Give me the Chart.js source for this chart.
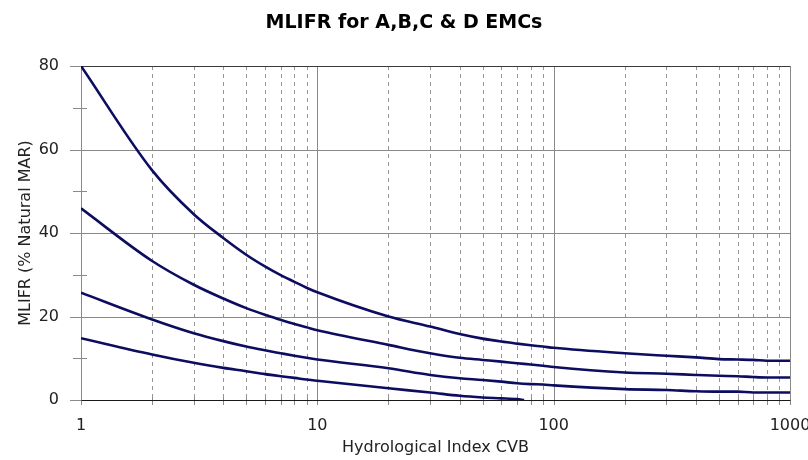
<!DOCTYPE html>
<html>
<head>
<meta charset="utf-8">
<title>MLIFR for A,B,C & D EMCs</title>
<script src="https://cdn.jsdelivr.net/npm/chart.js@4.4.1/dist/chart.umd.min.js"></script>
<style>
  html, body { margin: 0; padding: 0; background: #fff; }
  #wrap { width: 808px; height: 460px; }
</style>
</head>
<body>
<div id="wrap"><canvas id="mlifrChart" width="808" height="460"></canvas></div>
<script>
// hydrological index CVB (x) and MLIFR values
var cvb = [1, 2, 3, 4, 5, 6, 7, 8, 9, 10, 20, 30, 40, 50, 60, 70, 80, 90, 100,
           200, 300, 400, 500, 600, 700, 800, 900, 1000];
var mlifrA = [80, 55.0, 44.5, 38.8, 34.8, 32.0, 29.9, 28.3, 26.9, 25.8, 20.0, 17.6, 15.8, 14.7, 14.0, 13.5, 13.1, 12.8, 12.5,
              11.2, 10.6, 10.2, 9.8, 9.7, 9.6, 9.4, 9.4, 9.4];
var mlifrB = [45.9, 33.3, 27.6, 24.3, 22.0, 20.4, 19.2, 18.2, 17.4, 16.7, 13.2, 11.2, 10.1, 9.6, 9.2, 8.8, 8.5, 8.2, 7.9,
              6.6, 6.3, 6.0, 5.8, 5.7, 5.5, 5.4, 5.4, 5.4];
var mlifrC = [25.7, 19.3, 16.0, 14.1, 12.8, 11.9, 11.2, 10.6, 10.1, 9.7, 7.6, 6.0, 5.2, 4.8, 4.4, 4.0, 3.8, 3.7, 3.5,
              2.6, 2.4, 2.1, 2.0, 2.0, 1.8, 1.8, 1.8, 1.8];
// D runs out to zero before 100
var cvbD = [1, 2, 3, 4, 5, 6, 7, 8, 9, 10, 20, 30, 40, 50, 60, 70, 75];
var mlifrD = [14.8, 10.9, 8.9, 7.7, 6.9, 6.2, 5.7, 5.3, 4.9, 4.6, 2.8, 1.8, 1.0, 0.6, 0.4, 0.2, 0];

var seriesNames = ['A', 'B', 'C', 'D'];
var xLabels = [1, 10, 100, 1000];
var yLabels = [0, 20, 40, 60, 80];

var FONT = 'DejaVu Sans';
var LINE = '#0c0c60';

function pts(xs, ys) {
  return xs.map(function (x, i) { return { x: x, y: ys[i] }; });
}

// keep only 1..9 x 10^n ticks (log scale also hands out 15, 150 ...)
function isDecadeTick(v) {
  var m = v / Math.pow(10, Math.floor(Math.log10(v) + 1e-9));
  return Math.abs(m - Math.round(m)) < 1e-6;
}

// excel-like grid: solid majors, dashed minors, cross ticks on the axes
var gridPlugin = {
  id: 'excelGrid',
  beforeDatasetsDraw: function (chart) {
    var ctx = chart.ctx, a = chart.chartArea;
    var xs = chart.scales.x, ys = chart.scales.y;
    var xt = xs.ticks.filter(function (t) { return isDecadeTick(t.value); });
    ctx.save();
    ctx.lineWidth = 1;

    xt.forEach(function (t) {
      var v = t.value;
      if (v <= 1 || v >= 1000) return;
      var px = Math.round(xs.getPixelForValue(v)) + 0.5;
      var major = xLabels.indexOf(v) >= 0;
      ctx.strokeStyle = major ? '#8a8a8a' : '#959595';
      ctx.setLineDash(major ? [] : [4, 4]);
      ctx.beginPath();
      ctx.moveTo(px, a.top);
      ctx.lineTo(px, a.bottom);
      ctx.stroke();
    });
    ctx.setLineDash([]);

    ys.ticks.forEach(function (t) {
      var v = t.value;
      var py = Math.round(ys.getPixelForValue(v)) + 0.5;
      var major = yLabels.indexOf(v) >= 0;
      ctx.strokeStyle = '#8a8a8a';
      ctx.beginPath();
      if (major) {
        ctx.moveTo(a.left - 11, py);
        ctx.lineTo(v > 0 && v < 80 ? a.right : a.left, py);
      } else {
        ctx.moveTo(a.left - 8, py);
        ctx.lineTo(a.left + 6, py);
      }
      ctx.stroke();
    });

    // tick marks under the x axis
    ctx.strokeStyle = '#8a8a8a';
    xt.forEach(function (t) {
      var px = Math.round(xs.getPixelForValue(t.value)) + 0.5;
      ctx.beginPath();
      ctx.moveTo(px, a.bottom - 3);
      ctx.lineTo(px, a.bottom + 5);
      ctx.stroke();
    });

    // frame
    var l = Math.round(a.left) + 0.5, r = Math.round(a.right) + 0.5;
    var t0 = Math.round(a.top) + 0.5, b = Math.round(a.bottom) + 0.5;
    ctx.strokeStyle = '#8a8a8a';
    ctx.beginPath();
    ctx.moveTo(l, t0); ctx.lineTo(l, b);
    ctx.moveTo(r, t0); ctx.lineTo(r, b);
    ctx.stroke();
    ctx.strokeStyle = '#3a3a3a';
    ctx.beginPath();
    ctx.moveTo(l, t0); ctx.lineTo(r, t0);
    ctx.stroke();
    ctx.strokeStyle = '#1a1a1a';
    ctx.beginPath();
    ctx.moveTo(l, b); ctx.lineTo(r, b);
    ctx.stroke();
    ctx.restore();
  }
};

var allX = [cvb, cvb, cvb, cvbD];
var allY = [mlifrA, mlifrB, mlifrC, mlifrD];

var ctx = document.getElementById('mlifrChart').getContext('2d');
var chart = new Chart(ctx, {
  type: 'line',
  data: {
    datasets: seriesNames.map(function (n, i) {
      return {
        label: n,
        data: pts(allX[i], allY[i]),
        borderColor: LINE,
        borderWidth: 2.6,
        pointRadius: 0,
        cubicInterpolationMode: 'monotone',
        fill: false
      };
    })
  },
  options: {
    responsive: false,
    animation: false,
    events: [],
    layout: { padding: 0 },
    plugins: {
      legend: { display: false },
      tooltip: { enabled: false },
      title: {
        display: true,
        text: 'MLIFR for A,B,C & D EMCs',
        color: '#000',
        font: { family: FONT, size: 19, weight: 'bold' },
        padding: { top: 12, bottom: 31.2 }
      }
    },
    scales: {
      x: {
        type: 'logarithmic',
        min: 1,
        max: 1000,
        grid: { display: false, drawTicks: false },
        border: { display: false },
        afterFit: function (s) { s.height = 60; s.paddingRight = 18; s.paddingLeft = 0; },
        ticks: {
          autoSkip: false,
          maxRotation: 0,
          padding: 16,
          color: '#222',
          font: { family: FONT, size: 16 },
          callback: function (v) { return xLabels.indexOf(v) >= 0 ? String(v) : ''; }
        },
        title: {
          display: true,
          text: 'Hydrological Index CVB',
          color: '#222',
          font: { family: FONT, size: 16 },
          padding: { top: 0, bottom: 3 }
        }
      },
      y: {
        min: 0,
        max: 80,
        grid: { display: false, drawTicks: false },
        border: { display: false },
        afterFit: function (s) { s.width = 81; },
        ticks: {
          stepSize: 10,
          padding: 22,
          color: '#222',
          font: { family: FONT, size: 16 },
          callback: function (v) { return yLabels.indexOf(v) >= 0 ? String(v) : ''; }
        },
        title: {
          display: true,
          text: 'MLIFR (% Natural MAR)',
          color: '#222',
          font: { family: FONT, size: 16 },
          padding: { top: 16.4, bottom: 0 }
        }
      }
    }
  },
  plugins: [gridPlugin]
});
</script>
</body>
</html>
